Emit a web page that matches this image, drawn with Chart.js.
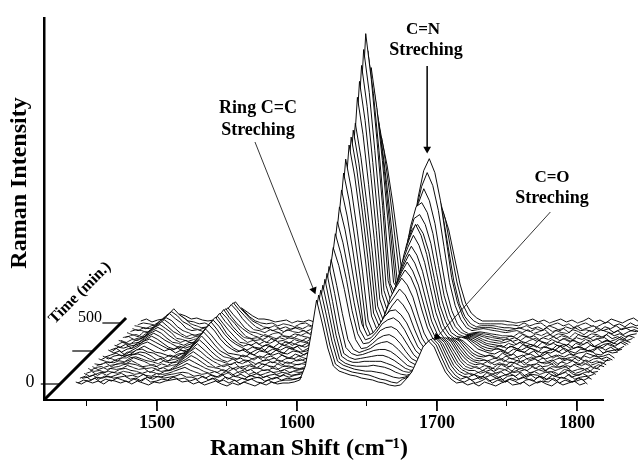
<!DOCTYPE html>
<html>
<head>
<meta charset="utf-8">
<script src="https://cdn.jsdelivr.net/npm/chart.js@4"></script>
<style>
  html, body { margin: 0; padding: 0; background: #fff; }
  #wrap { width: 638px; height: 464px; }
</style>
</head>
<body>
<div id="wrap"><canvas id="myChart" width="638" height="464"></canvas></div>
<script>
// raman shift grid (cm-1) shared by all spectra
const shift = [1442,1446,1450,1454,1458,1462,1466,1470,1474,1478,1482,1486,1490,1494,1498,1502,1506,1510,1514,1518,1522,1526,1530,1534,1538,1542,1546,1550,1554,1558,1562,1566,1570,1574,1578,1582,1586,1590,1594,1598,1602,1606,1610,1614,1618,1622,1626,1630,1634,1638,1642,1646,1650,1654,1658,1662,1666,1670,1674,1678,1682,1686,1690,1694,1698,1702,1706,1710,1714,1718,1722,1726,1730,1734,1738,1742,1746,1750,1754,1758,1762,1766,1770,1774,1778,1782,1786,1790,1794,1798,1802,1806];

// acquisition time of each spectrum (min)
const timeMin = [0,16,32,48,64,80,96,112,128,144,160,176,192,208,224,250,266,282,298,314,330,346,362,378,394,420,436,452,476,500];

// intensity of each spectrum
const trace00 = [1,-1,2,0,2,-1,3,2,0,2, -1,2,0,-2,1,0,2,3,4,1, 2,-1,1,-2,0,2,-1,-3,0,-2, 1,-1,-3,0,-2,1,-1,0, 0,1,3,17,48,83,60,35,17,12, 10,8,7,5,4,3,1,0,-2,-3, -2,4,11,23,36,42,36,23,11,4,0, 1,-2,0,-3,1,-1,-3,0,2,-2,-1,1,-3,0,2,-1,-3,1,-2,0,2,-2,0];
const trace01 = [-2,1,0,3,-1,2,0,3,1,-1, 2,0,3,-1,0,2,1,4,2,3, 0,2,-2,0,3,-1,1,-2,1,-3, 0,2,-1,-2,1,-2,0,1, 1,2,4,17,50,86,62,36,17,13, 11,9,8,7,6,4,2,1,-1,-2, 2,4,11,23,36,42,36,23,11,4,1, -1,2,-2,0,3,-2,1,-1,2,0,-3,1,2,-2,0,-1,3,-2,1,-1,0,2,-3];
const trace02 = [1,3,-1,2,1,3,1,2,3,0, 1,-2,2,0,3,1,2,3,5,2, 2,0,3,-1,1,-2,2,0,-2,1, -1,1,2,-2,0,2,-1,1, 0,1,4,18,52,89,64,38,18,14, 12,10,9,8,8,7,6,4,2,1, 2,4,11,23,35,41,35,23,11,4,0, 2,-1,1,3,-2,0,2,-3,1,-1,2,0,-2,3,-1,1,-2,2,0,-3,1,-1,2];
const trace03 = [-1,0,2,-2,1,0,2,4,1,2, 0,3,-1,1,0,2,3,4,5,4, 1,2,-1,2,0,3,-2,1,0,-2, 2,0,-1,1,-2,0,2,0, 2,3,5,18,53,92,66,39,18,14, 12,11,11,11,12,11,10,8,5,3, 2,4,11,22,34,40,34,22,11,4,1, 0,3,-2,0,2,-1,-3,1,2,-2,0,3,-1,1,-2,2,0,-1,3,-2,0,1,-2];
const trace04 = [2,-1,1,3,0,3,2,4,3,1, 2,0,-1,2,1,2,4,6,8,5, 3,1,2,0,-2,1,3,-1,1,-2, 0,2,-2,0,1,-1,2,0, 1,3,5,19,56,96,69,40,19,15, 13,13,14,14,14,14,12,10,7,4, 3,5,10,21,32,38,32,21,10,4,1, 2,0,-2,3,1,-2,0,2,-1,3,-2,1,0,-3,2,-1,1,3,-2,0,2,-1,1];
const trace05 = [0,2,-2,1,2,1,4,5,3,2, 0,2,1,-1,2,3,5,7,10,7, 5,2,0,2,-1,2,-2,1,3,-1, 1,-2,0,2,-1,1,0,2, 1,2,5,20,58,100,72,42,20,16, 14,15,16,17,18,18,16,13,9,5, 3,5,10,20,31,36,31,20,10,4,1, -2,1,3,-1,0,2,-2,1,3,-3,0,2,-1,1,2,-2,0,3,-1,-2,1,2,-1];
const trace06 = [3,0,1,-1,3,2,3,6,4,2, 3,-1,2,0,1,2,6,9,12,9, 6,3,1,-1,2,0,3,-2,0,2, -2,1,2,-1,0,2,-1,1, 2,3,6,22,62,105,78,48,24,18, 16,17,19,21,22,22,20,16,11,6, 4,5,9,19,29,34,29,19,9,3,1, 1,-2,0,2,-3,1,3,-1,0,2,-2,1,3,-1,0,-3,2,1,-2,0,3,-1,0];
const trace07 = [-1,2,3,0,2,3,5,6,5,3, 1,2,0,2,-1,3,7,10,14,11, 7,3,2,1,-2,2,0,3,-1,1, 2,-1,0,3,-2,1,2,0, 1,3,7,24,66,110,84,56,30,20, 17,19,21,25,27,28,25,20,14,8, 5,5,9,18,27,32,27,18,9,3,1, 3,-1,2,-2,1,0,-3,2,1,-1,3,0,-2,2,-1,1,3,-2,0,1,-3,2,0];
const trace08 = [1,-2,0,2,3,4,4,7,4,1, 2,3,-1,1,2,3,8,12,16,12, 8,4,0,2,3,-1,1,-2,2,0, -1,3,0,-2,1,2,0,-1, 1,4,10,30,78,120,102,78,50,28, 19,20,24,29,32,33,30,24,16,9, 6,5,8,17,26,30,26,17,8,3,1, -1,2,1,-2,3,0,2,-2,0,3,-1,2,-3,1,0,2,-1,3,0,-2,1,-1,3];
const trace09 = [2,1,3,-1,2,3,5,8,6,4, 1,-1,2,0,3,4,9,14,18,14, 9,5,2,-1,1,3,-2,0,1,-2, 2,0,-1,3,0,-2,1,2, 1,4,11,33,86,132,112,86,55,32, 22,23,28,35,38,39,36,29,20,11, 6,5,8,15,24,28,24,15,8,3,1, 2,0,-3,1,2,-1,3,0,-2,1,2,-1,0,3,-2,1,-1,2,0,3,-2,1,-1];
const trace10 = [-2,0,2,1,3,2,6,7,5,3, 2,0,3,1,2,5,10,15,20,15, 10,5,3,1,-1,2,0,3,-2,1, -1,2,1,-2,2,0,-1,1, 2,4,11,36,92,142,121,92,61,34, 24,26,32,40,44,46,42,34,23,13, 8,5,8,14,22,26,22,14,7,3,1, 0,3,-1,1,-2,2,0,3,-1,-2,2,0,1,-3,2,0,3,-1,1,-2,0,2,-1];
const trace11 = [3,1,-1,2,4,4,7,8,6,3, 1,3,0,2,3,5,11,17,22,17, 11,6,2,0,3,-1,2,1,-2,0, 3,-1,2,0,-2,1,3,0, 2,5,12,39,101,155,132,101,67,38, 26,29,36,45,51,52,47,39,27,15, 9,6,8,13,20,24,20,13,6,2,1, 2,-2,1,3,0,-1,2,-3,1,3,-1,0,2,-2,1,3,0,-2,2,-1,1,-2,3];
const trace12 = [0,3,1,-1,3,5,6,8,7,4, 0,2,-1,3,2,6,12,18,24,18, 12,7,3,2,0,2,-2,1,3,-1, 0,2,-2,1,3,-1,0,2, 2,5,14,42,110,170,144,110,73,30, 17,23,34,45,54,61,55,46,31,18, 10,6,8,12,19,22,19,12,6,2,1, -1,1,3,-2,2,0,-2,1,3,-1,2,-3,0,2,1,-1,3,0,-2,1,2,-1,0];
const trace13 = [2,-1,2,3,2,4,8,9,6,5, 2,0,3,1,4,5,13,20,26,20, 13,7,4,1,-1,3,1,-2,2,0, 2,-1,3,0,-1,2,0,-2, 3,6,15,46,120,185,157,120,79,33, 20,27,38,53,61,69,63,52,36,20, 11,6,7,11,17,20,17,11,5,2,1, 3,0,-2,2,-1,1,3,-2,0,2,-1,1,3,-2,0,1,-3,2,0,3,-1,1,-2];
const trace14 = [-1,1,3,0,4,4,7,10,7,4, 3,1,-1,2,3,6,14,21,27,21, 14,8,3,2,1,-1,3,0,-2,2, 1,3,0,-2,2,0,3,1, 2,6,16,49,128,197,167,128,85,36, 22,29,42,59,69,78,71,59,40,23, 13,7,7,10,15,18,15,10,5,2,0, 1,-2,3,0,2,-3,1,2,-1,0,3,-2,1,-1,2,0,-2,3,1,-1,0,2,-2];
const trace15 = [3,0,2,-2,2,5,9,11,8,5, 2,4,0,3,1,7,14,22,28,22, 14,8,4,1,3,0,-2,2,1,-1, 3,0,-1,2,1,-2,2,0, 3,6,17,52,135,208,177,135,89,37, 23,32,46,63,74,83,76,63,43,25, 14,7,6,9,14,16,14,9,4,2,0, -1,2,0,-2,3,1,-1,2,-3,1,0,3,-1,2,-2,0,1,3,-1,-2,2,0,1];
const trace16 = [1,3,-1,2,3,6,10,12,9,6, 3,1,3,0,2,7,15,23,29,22, 14,8,3,0,2,-2,1,3,-1,2, 0,-2,3,1,-1,0,3,1, 2,6,17,54,139,214,182,139,92,38, 25,32,48,66,79,89,80,66,46,26, 14,7,6,8,12,14,12,8,4,1,0, 3,1,-2,2,0,-1,3,1,-2,0,2,-1,3,0,-2,2,1,-1,3,-2,0,1,2];
const trace17 = [-2,2,1,3,4,6,10,13,10,6, 2,0,3,1,3,7,15,23,29,23, 15,9,5,2,-1,2,0,-2,3,1, -1,2,0,3,-2,1,0,2, 3,7,18,55,142,219,186,142,95,40, 26,35,51,71,84,95,86,71,49,28, 15,8,6,7,10,12,10,7,3,1,0, 0,-2,3,1,-1,2,0,-3,2,1,-1,3,-2,0,2,1,-2,0,3,-1,2,-2,0];
const trace18 = [2,0,3,-1,4,7,11,14,11,7, 4,1,-1,2,4,8,15,24,30,23, 14,8,4,1,3,0,-1,2,0,-2, 2,1,-1,2,0,3,-1,1, 3,7,18,56,146,224,190,146,97,41, 27,37,55,76,90,101,92,76,53,30, 16,8,5,6,9,10,9,6,3,1,0, 2,-1,1,-2,3,0,2,-1,1,-3,2,0,3,-1,1,-2,2,0,-1,3,1,-2,1];
const trace19 = [0,3,1,2,3,8,12,15,12,7, 3,2,0,3,2,8,15,22,29,22, 15,9,3,2,0,3,-1,1,-2,2, 0,3,1,-1,2,-1,1,3, 3,7,20,62,161,248,211,161,107,46, 30,40,60,83,98,110,100,83,58,33, 17,9,5,5,8,9,8,5,2,1,0, -2,2,0,3,-1,1,-2,3,0,2,-1,1,-3,2,0,3,-1,-2,1,2,-1,3,0];
const trace20 = [3,1,-1,3,5,8,13,16,13,8, 4,1,3,0,4,7,16,23,30,22, 16,10,5,1,3,-1,2,0,3,-1, 2,-2,1,3,0,2,-1,1, 4,8,21,66,170,262,223,170,113,49, 32,43,65,90,106,119,108,89,62,36, 18,9,5,4,7,8,7,4,2,1,0, 1,3,-1,2,0,-2,3,1,-1,2,0,-2,3,1,-1,2,-3,0,3,1,-1,2,-1];
const trace21 = [1,-1,2,1,4,9,14,17,13,9, 3,2,0,2,3,9,15,23,29,23, 15,9,4,3,1,2,-1,3,0,1, -2,2,0,-1,3,1,2,-1, 4,8,22,69,179,276,235,179,119,51, 34,46,69,96,112,117,108,90,63,36, 20,9,5,4,6,7,6,4,2,1,0, 3,0,2,-2,1,3,0,-2,2,-1,3,0,1,-2,2,0,3,-1,1,-2,2,1,-1];
const trace22 = [2,3,0,2,3,8,14,18,13,8, 5,2,1,3,2,8,16,22,30,22, 16,9,3,1,2,0,3,-1,2,0, 3,1,-1,2,0,-1,3,1, 4,9,23,73,189,290,247,189,126,54, 36,50,74,102,121,125,115,96,67,39, 21,10,5,3,5,6,5,3,2,1,0, 0,2,-1,3,1,-2,2,0,3,-1,1,-2,2,0,3,-1,1,2,-2,0,3,-1,1];
const trace23 = [0,2,3,1,5,9,13,18,14,9, 4,1,3,2,4,9,15,22,29,21, 14,9,5,2,0,3,1,-1,2,0, -1,3,1,0,2,3,-1,2, 5,9,24,76,198,304,258,198,132,57, 39,53,80,111,131,135,125,104,72,42, 23,11,5,3,4,5,4,3,1,0,0, 2,-1,3,0,2,-2,1,3,-1,2,0,-2,3,1,-1,2,0,3,-1,1,-2,2,0];
const trace24 = [3,1,-1,4,4,9,15,18,15,9, 5,3,0,2,3,8,16,21,28,21, 15,8,4,3,1,-1,2,3,0,-1, 2,0,3,1,-1,2,0,3, 4,9,23,71,185,285,242,185,120,52, 40,54,82,110,132,147,135,112,78,46, 25,12,5,2,3,4,3,2,1,0,0, -1,3,1,-2,2,0,3,-1,2,1,-2,3,0,-1,2,1,-2,3,0,2,-1,1,2];
const trace25 = [1,3,2,0,5,10,14,19,14,10, 4,2,3,1,4,9,15,21,28,22, 14,8,3,2,0,3,1,-1,3,1, 0,2,-1,3,1,0,2,1, 4,8,21,66,172,265,225,172,111,50, 42,58,90,122,146,160,147,122,86,50, 27,13,5,2,3,4,3,2,1,0,1, 2,0,3,-1,1,3,-2,2,0,-1,3,1,-2,2,0,3,1,-1,2,-2,1,3,0];
const trace26 = [2,0,3,2,4,9,15,19,15,9, 6,2,1,3,2,8,15,21,28,21, 15,9,4,1,3,0,2,-1,1,3, 1,-1,2,0,3,1,-1,2, 4,7,20,61,159,245,208,159,103,47, 42,60,96,133,160,172,158,130,92,53, 29,14,5,2,3,3,3,2,1,0,1, 3,1,-1,2,0,3,-1,1,2,-2,3,0,1,-1,3,0,2,-2,1,3,0,-1,2];
const trace27 = [3,2,0,3,4,10,14,20,14,10, 5,3,1,2,4,7,14,20,27,20, 14,8,5,2,1,3,0,2,-1,2, 0,3,1,-1,2,0,3,1, 3,7,18,56,146,225,191,146,95,43, 34,50,82,112,138,150,138,115,82,48, 25,12,5,2,3,3,3,2,1,1,0, 1,3,0,2,-1,3,1,-2,2,0,3,-1,1,3,-2,2,0,3,-1,1,2,0,-2];
const trace28 = [1,3,2,1,5,5,9,12,9,5, 4,2,3,0,3,5,9,14,19,15, 9,5,3,2,3,0,2,1,-1,2, 3,0,2,-1,1,3,0,2, 3,6,16,51,133,205,174,133,86,39, 30,45,74,100,124,135,125,105,74,44, 22,11,5,2,2,2,2,2,1,1,0, 3,0,2,3,-1,1,3,0,2,-2,1,3,0,-1,2,4,0,2,-1,3,0,2,1];
const trace29 = [2,4,1,3,4,4,7,9,7,4, 5,3,2,3,2,4,7,11,15,11, 7,4,4,3,1,2,3,0,2,1, 3,1,2,0,3,1,2,0, 3,6,15,46,120,185,157,120,78,35, 27,40,66,90,110,120,111,93,66,39, 20,10,5,2,2,2,2,2,1,0,1, 2,4,1,3,0,2,4,1,3,0,2,5,1,3,0,4,2,0,3,5,1,3,2];
const traces = [trace00,trace01,trace02,trace03,trace04,trace05,trace06,trace07,trace08,trace09,trace10,trace11,trace12,trace13,trace14,trace15,trace16,trace17,trace18,trace19,trace20,trace21,trace22,trace23,trace24,trace25,trace26,trace27,trace28,trace29];

// how far one minute moves a spectrum on the page (fake 3d)
const shiftPerMin = 0.0929;
const risePerMin = 0.12;
const baseLevel = 17;

const xTicks = [1450,1500,1550,1600,1650,1700,1750,1800];
const xTickLabels = ["","1500","","1600","","1700","","1800"];
const xMajorTicks = [1500,1600,1700,1800];

function lineSet(points, width, extra) {
  return Object.assign({
    data: points,
    borderColor: "#000",
    borderWidth: width,
    pointRadius: 0,
    tension: 0,
    fill: false,
    clip: false,
  }, extra || {});
}

// arrows: last point carries a triangle as the head
function arrowSet(from, to, angle) {
  return lineSet([{ x: from[0], y: from[1] }, { x: to[0], y: to[1] }], 0.8, {
    pointRadius: [0, 4.5],
    pointStyle: "triangle",
    pointRotation: angle,
    pointBackgroundColor: "#000",
    pointBorderColor: "#000",
    pointBorderWidth: 0,
  });
}

const overlaySets = [
  arrowSet([1570, 258], [1612, 110], 158),
  arrowSet([1693, 334], [1693, 251], 180),
  arrowSet([1781, 188], [1700, 63], 222),
  // time axis and its ticks
  lineSet([{ x: 1419.3, y: 0 }, { x: 1477.9, y: 82 }], 3),
  lineSet([{ x: 1417, y: 16 }, { x: 1431, y: 16 }], 1.2),
  lineSet([{ x: 1439.5, y: 49 }, { x: 1453.5, y: 49 }], 1.2),
  lineSet([{ x: 1461, y: 77 }, { x: 1474, y: 77 }], 1.2),
];

// the labelled x ticks run longer than the others
const majorTickSets = xMajorTicks.map((v) => lineSet([{ x: v, y: 0 }, { x: v, y: -11 }], 1));

// front spectrum first, chart.js paints the first dataset on top
const traceSets = traces.map((vals, i) => {
  const base = baseLevel + timeMin[i] * risePerMin;
  const off = timeMin[i] * shiftPerMin;
  return lineSet(vals.map((v, j) => ({ x: shift[j] + off, y: base + v })), 0.95, {
    borderColor: "#000",
    fill: { target: { value: base + 6 }, above: "#fff", below: "rgba(0,0,0,0)" },
  });
});

// page text that has no axis of its own
const labelPlugin = {
  id: "labels",
  afterDraw(chart) {
    const ctx = chart.ctx;
    const put = (text, x, y, font, angle) => {
      ctx.save();
      ctx.translate(x, y);
      ctx.rotate(angle || 0);
      ctx.font = font;
      ctx.fillStyle = "#000";
      ctx.textAlign = "center";
      ctx.textBaseline = "middle";
      ctx.fillText(text, 0, 0);
      ctx.restore();
    };
    const serif = '"Liberation Serif", serif';
    put("Raman Intensity", 20, 183, "bold 24px " + serif, -Math.PI / 2);
    put("Raman Shift (cm⁻¹)", 309, 449, "bold 24px " + serif);
    put("Ring C=C", 258, 108, "bold 18px " + serif);
    put("Streching", 258, 130, "bold 18px " + serif);
    put("C=N", 423, 30, "bold 17px " + serif);
    put("Streching", 426, 50, "bold 18px " + serif);
    put("C=O", 552, 178, "bold 17px " + serif);
    put("Streching", 552, 198, "bold 18px " + serif);
    put("Time (min.)", 80, 293, "bold 16px " + serif, -Math.PI / 4);
    put("500", 90, 318, "16px " + serif);
    put("0", 30, 382, "18px " + serif);
  },
};

const myChart = new Chart(document.getElementById("myChart"), {
  type: "line",
  data: { datasets: overlaySets.concat(majorTickSets, traceSets) },
  plugins: [labelPlugin],
  options: {
    responsive: false,
    animation: false,
    devicePixelRatio: 1,
    layout: { padding: { top: 18, right: 35, left: 0, bottom: 0 } },
    plugins: { legend: { display: false }, tooltip: { enabled: false } },
    scales: {
      x: {
        type: "linear",
        bounds: "data",
        // set here and not as min/max so the spectra can run on past the axis end
        afterDataLimits: (scale) => { scale.min = 1419.3; scale.max = 1818.6; },
        afterFit: (scale) => { scale.height = 64; },
        afterBuildTicks: (scale) => { scale.ticks = xTicks.map((v) => ({ value: v })); },
        border: { color: "#000", width: 2 },
        grid: { drawOnChartArea: false, color: "#000", tickLength: 6, lineWidth: 1 },
        ticks: {
          autoSkip: false,
          maxRotation: 0,
          padding: 7,
          color: "#000",
          font: { family: '"Liberation Serif", serif', size: 18, weight: "bold" },
          callback: (value) => xTickLabels[xTicks.indexOf(value)],
        },
      },
      y: {
        min: 0,
        max: 382,
        afterFit: (scale) => { scale.width = 44; },
        border: { color: "#000", width: 2.5 },
        grid: { display: false },
        ticks: { display: false },
      },
    },
  },
});
</script>
</body>
</html>
